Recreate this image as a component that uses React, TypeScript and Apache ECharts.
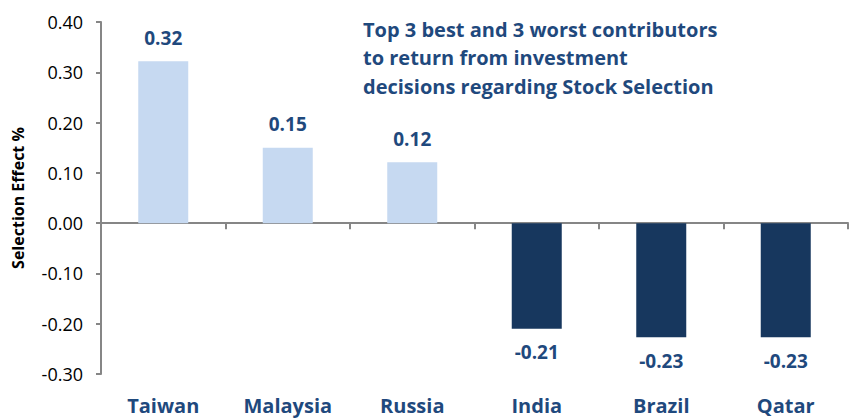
import React, { useEffect, useRef } from "react";
import * as echarts from "echarts";

const categories = ["Taiwan", "Malaysia", "Russia", "India", "Brazil", "Qatar"];
const values = [0.322, 0.15, 0.121, -0.21, -0.227, -0.227];
const titleLines = [
  "Top 3 best and 3 worst contributors",
  "to return from investment",
  "decisions regarding Stock Selection",
];
const yAxisName = "Selection Effect %";

const POS_COLOR = "#C6D9F1";
const NEG_COLOR = "#17375E";
const TEXT_BLUE = "#1F497D";
const AXIS_GRAY = "#868686";
const FONT = "'Open Sans', 'Noto Sans', sans-serif";

export default function App() {
  const ref = useRef<HTMLDivElement>(null);
  useEffect(() => {
    if (!ref.current) return;
    const chart = echarts.init(ref.current, undefined, { renderer: "svg" });
    const data = values.map((v) => ({
      value: v,
      itemStyle: { color: v >= 0 ? POS_COLOR : NEG_COLOR },
      label: { position: v >= 0 ? "top" : "bottom" },
    }));
    chart.setOption({
      animation: false,
      backgroundColor: "#ffffff",
      textStyle: { fontFamily: FONT },
      grid: { left: 101, right: 18, top: 22, bottom: 45, containLabel: false },
      graphic: [
        {
          type: "text",
          left: 363,
          top: 15,
          style: {
            text: titleLines.join("\n"),
            fill: TEXT_BLUE,
            font: `bold 20px ${FONT}`,
            lineHeight: 28.5,
          },
        },
      ],
      xAxis: [
        {
          type: "category",
          data: categories,
          position: "bottom",
          axisLine: { onZero: true, lineStyle: { color: AXIS_GRAY, width: 2 } },
          axisTick: { show: true, length: 6, lineStyle: { color: AXIS_GRAY, width: 2 } },
          axisLabel: { show: false },
          splitLine: { show: false },
        },
        {
          type: "category",
          data: categories,
          position: "bottom",
          axisLine: { show: false, onZero: false },
          axisTick: { show: false },
          axisLabel: {
            show: true,
            margin: 21,
            color: TEXT_BLUE,
            fontFamily: FONT,
            fontWeight: "bold",
            fontSize: 20,
          },
        },
      ],
      yAxis: {
        type: "value",
        min: -0.3,
        max: 0.4,
        interval: 0.1,
        name: yAxisName,
        nameLocation: "middle",
        nameGap: 75,
        nameRotate: 90,
        nameTextStyle: { color: "#000", fontWeight: "bold", fontSize: 16, fontFamily: FONT },
        axisLine: { show: true, lineStyle: { color: AXIS_GRAY, width: 2 } },
        axisTick: { show: true, length: 5, lineStyle: { color: AXIS_GRAY, width: 2 } },
        splitLine: { show: false },
        axisLabel: {
          color: "#000",
          fontSize: 18,
          fontFamily: FONT,
          margin: 18,
          formatter: (v: number) => v.toFixed(2),
        },
      },
      series: [
        {
          type: "bar",
          xAxisIndex: 0,
          data,
          barWidth: 50,
          label: {
            show: true,
            distance: 14,
            color: TEXT_BLUE,
            fontWeight: "bold",
            fontSize: 19,
            fontFamily: FONT,
            formatter: (p: any) => Number(p.value).toFixed(2),
          },
        },
      ],
    });
    return () => chart.dispose();
  }, []);
  return (
    <div
      ref={ref}
      style={{ position: "fixed", left: 0, top: 0, width: 866, height: 419 }}
    />
  );
}
